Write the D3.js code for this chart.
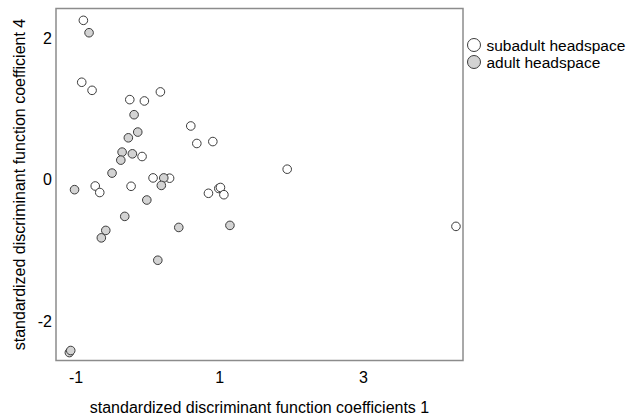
<!DOCTYPE html>
<html>
<head>
<meta charset="utf-8">
<script src="https://cdnjs.cloudflare.com/ajax/libs/d3/7.8.5/d3.min.js"></script>
<style>
  body { margin: 0; background: #fff; }
  text { font-family: "Liberation Sans", Arial, sans-serif; fill: #000; }
</style>
</head>
<body>
<svg id="chart" width="630" height="416"></svg>
<script>
'use strict';

// subadult headspace (open circles)
const subX = [-0.891, -0.914, -0.770, -0.245, -0.042, 0.181, 0.604, 0.688, 0.911, -0.074,
  0.079, 0.309, -0.726, -0.663, -0.227, 0.850, 0.994, 1.017, 1.065, 1.946, 4.295];
const subY = [2.249, 1.375, 1.261, 1.130, 1.111, 1.239, 0.758, 0.511, 0.538, 0.327,
  0.025, 0.021, -0.089, -0.181, -0.093, -0.192, -0.124, -0.110, -0.212, 0.148, -0.659];

// adult headspace (grey circles)
const adX = [-0.812, -0.185, -0.134, -0.265, -0.352, -0.209, -0.370, -0.492, 0.228, 0.194,
  -1.014, -0.008, -0.315, 0.437, 1.149, -0.579, -0.641, 0.145, -1.086, -1.067];
const adY = [2.074, 0.917, 0.672, 0.591, 0.389, 0.365, 0.276, 0.093, 0.025, -0.081,
  -0.141, -0.287, -0.518, -0.674, -0.645, -0.716, -0.821, -1.137, -2.440, -2.411];

const xTicks = [-1, 1, 3];
const yTicks = [2, 0, -2];
const groups = ["subadult headspace", "adult headspace"];
const groupFill = ["#ffffff", "#d3d3d3"];

const svg = d3.select("#chart");
const plot = { left: 56, right: 463, top: 8.5, bottom: 360.5 };

const x = d3.scaleLinear().domain([-1.272, 4.393]).range([plot.left, plot.right]);
const y = d3.scaleLinear().domain([-2.552, 2.416]).range([plot.bottom, plot.top]);

// frame
svg.append("rect")
  .attr("x", plot.left)
  .attr("y", plot.top)
  .attr("width", plot.right - plot.left)
  .attr("height", plot.bottom - plot.top)
  .attr("fill", "none")
  .attr("stroke", "#8c8c8c")
  .attr("stroke-width", 1.5);

// axes (labels only, no tick marks); plain hyphen for negatives
const fmt = d => String(d);
const xAxis = svg.append("g")
  .attr("transform", `translate(0,${plot.bottom + 6})`)
  .call(d3.axisBottom(x).tickValues(xTicks).tickSize(0).tickPadding(5).tickFormat(fmt));
xAxis.select(".domain").remove();
xAxis.selectAll("text").style("font-size", "16px").attr("fill", "#000");

const yAxis = svg.append("g")
  .attr("transform", `translate(${plot.left - 4},0)`)
  .call(d3.axisLeft(y).tickValues(yTicks).tickSize(0).tickPadding(0).tickFormat(fmt));
yAxis.select(".domain").remove();
yAxis.selectAll("text").style("font-size", "16px").attr("fill", "#000");

// axis titles
svg.append("text")
  .attr("x", (plot.left + plot.right) / 2)
  .attr("y", 412.5)
  .attr("text-anchor", "middle")
  .style("font-size", "16px")
  .text("standardized discriminant function coefficients 1");

svg.append("text")
  .attr("transform", `translate(24.5,${(plot.top + plot.bottom) / 2}) rotate(-90)`)
  .attr("text-anchor", "middle")
  .style("font-size", "16px")
  .text("standardized discriminant function coefficient 4");

// points
const drawGroup = (xs, ys, fill) => {
  svg.append("g")
    .selectAll("circle")
    .data(xs.map((d, i) => [d, ys[i]]))
    .join("circle")
    .attr("cx", d => x(d[0]))
    .attr("cy", d => y(d[1]))
    .attr("r", 4.3)
    .attr("fill", fill)
    .attr("stroke", "#3c3c3c")
    .attr("stroke-width", 1);
};
drawGroup(subX, subY, groupFill[0]);
drawGroup(adX, adY, groupFill[1]);

// legend
const legend = svg.append("g").attr("transform", "translate(474,45)");
legend.selectAll("circle")
  .data(groups)
  .join("circle")
  .attr("cx", 0)
  .attr("cy", (d, i) => i * 17)
  .attr("r", 6.5)
  .attr("fill", (d, i) => groupFill[i])
  .attr("stroke", "#3c3c3c")
  .attr("stroke-width", 1);
legend.selectAll("text")
  .data(groups)
  .join("text")
  .attr("x", 12.5)
  .attr("y", (d, i) => i * 17 + 5.5)
  .style("font-size", "15.5px")
  .text(d => d);
</script>
</body>
</html>
